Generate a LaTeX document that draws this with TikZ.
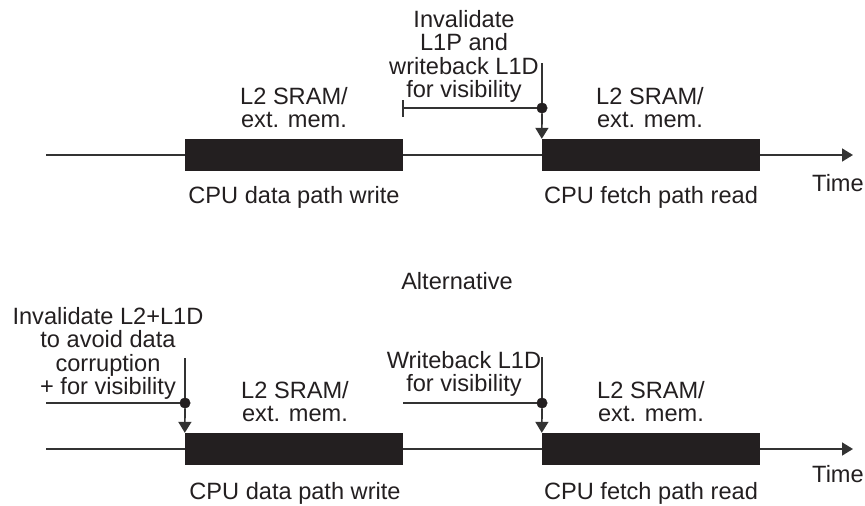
\documentclass[tikz,border=0pt]{standalone}
\usepackage{fontspec}
\setmainfont{Liberation Sans}
\usetikzlibrary{arrows.meta}
\definecolor{ink}{HTML}{231F20}
\definecolor{wire}{HTML}{333333}
\begin{document}
\begin{tikzpicture}[x=1pt,y=-1pt,
  lbl/.style={font=\fontsize{23.6}{23.5}\selectfont, text=ink, inner sep=0pt, align=center},
  bar/.style={fill=ink, draw=none, minimum width=218pt, minimum height=32pt, inner sep=0pt},
  dotnode/.style={circle, fill=ink, draw=ink, minimum size=10.5pt, inner sep=0pt},
  wireline/.style={draw=wire, line width=1.7pt},
  tip/.style={-{Triangle[width=13pt,length=11pt]}}
]
\useasboundingbox (0,0) rectangle (865,506);

% ---------- top timeline ----------
\node[bar] (b1) at (294,155) {};
\node[bar] (b2) at (651,155) {};
\coordinate (s1) at (46,155);
\coordinate (e1) at (853,155);
\draw[wireline] (s1) -- (b1.west);
\draw[wireline] (b1.east) -- (b2.west);
\draw[wireline,tip] (b2.east) -- (e1);

\node[lbl,anchor=north] (t1) at (294,87) {L2 SRAM/\\ext. mem.};
\node[lbl,anchor=north] (t2) at (650,87) {L2 SRAM/\\ext. mem.};
\node[lbl,anchor=north] (c1) at (294,186) {CPU data path write};
\node[lbl,anchor=north] (c2) at (651,186) {CPU fetch path read};
\node[lbl,anchor=north west] (time1) at (812,174) {Time};
\node[lbl,anchor=north] (inv1) at (464,10) {Invalidate\\L1P and\\writeback L1D\\for visibility};

\node[dotnode] (d1) at (542,108) {};
\coordinate (v1) at (542,63);
\coordinate (h1) at (403,108);
\coordinate (k1a) at (403,100);
\coordinate (k1b) at (403,117);
\draw[wireline] (v1) -- (d1);
\draw[wireline,tip] (d1) -- (b2.north west);
\draw[wireline] (h1) -- (d1);
\draw[wireline] (k1a) -- (k1b);

% ---------- alternative ----------
\node[lbl,anchor=north] (alt) at (457,272) {Alternative};

% ---------- bottom timeline ----------
\node[bar] (b3) at (294,449) {};
\node[bar] (b4) at (651,449) {};
\coordinate (s2) at (46,449);
\coordinate (e2) at (853,449);
\draw[wireline] (s2) -- (b3.west);
\draw[wireline] (b3.east) -- (b4.west);
\draw[wireline,tip] (b4.east) -- (e2);

\node[lbl,anchor=north] (t3) at (295,381) {L2 SRAM/\\ext. mem.};
\node[lbl,anchor=north] (t4) at (651,381) {L2 SRAM/\\ext. mem.};
\node[lbl,anchor=north] (c3) at (295,482) {CPU data path write};
\node[lbl,anchor=north] (c4) at (651,482) {CPU fetch path read};
\node[lbl,anchor=north west] (time2) at (812,465) {Time};
\node[lbl,anchor=north] (inv2) at (108,307) {Invalidate L2+L1D\\to avoid data\\corruption\\+ for visibility};
\node[lbl,anchor=north] (wb) at (464,351) {Writeback L1D\\for visibility};

\node[dotnode] (d2) at (185,403) {};
\coordinate (v2) at (185,358);
\coordinate (h2) at (46,403);
\draw[wireline] (v2) -- (d2);
\draw[wireline,tip] (d2) -- (b3.north west);
\draw[wireline] (h2) -- (d2);

\node[dotnode] (d3) at (542,403) {};
\coordinate (v3) at (542,357);
\coordinate (h3) at (403,403);
\draw[wireline] (v3) -- (d3);
\draw[wireline,tip] (d3) -- (b4.north west);
\draw[wireline] (h3) -- (d3);
\end{tikzpicture}
\end{document}
